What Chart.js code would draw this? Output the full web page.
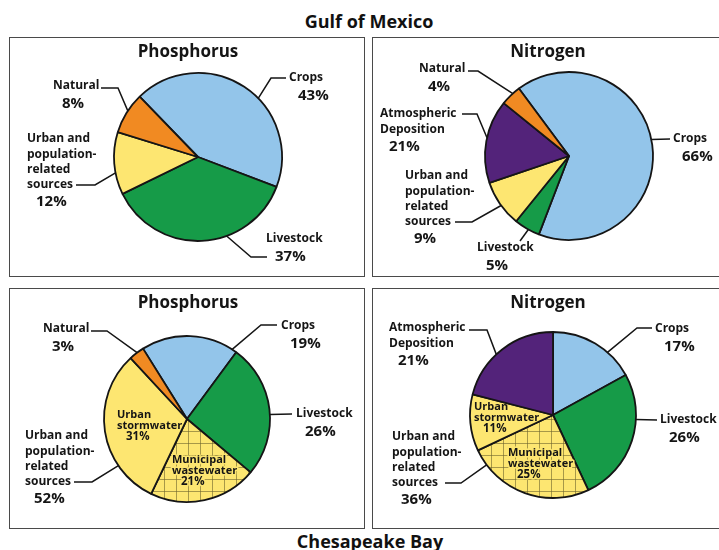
<!DOCTYPE html>
<html>
<head>
<meta charset="utf-8">
<script src="https://cdn.jsdelivr.net/npm/chart.js@4.4.1/dist/chart.umd.min.js"></script>
<style>
  body { margin: 0; width: 719px; height: 550px; background: #fff; position: relative; overflow: hidden; font-family: "Open Sans", sans-serif; }
  canvas { position: absolute; }
  .box { position: absolute; border: 1.5px solid #4a4a4a; box-sizing: border-box; pointer-events: none; }
  .head { position: absolute; font-weight: 700; font-size: 18px; color: #111; transform: translate(-50%, -50%); white-space: nowrap; }
</style>
</head>
<body>
<div class="head" style="left:369px; top:21px">Gulf of Mexico</div>
<div class="head" style="left:370px; top:541px">Chesapeake Bay</div>

<canvas id="gulfPhos" width="356" height="240" style="left:9px; top:37px"></canvas>
<canvas id="gulfNitro" width="350" height="240" style="left:372px; top:37px"></canvas>
<canvas id="chesPhos" width="356" height="241" style="left:9px; top:288px"></canvas>
<canvas id="chesNitro" width="350" height="241" style="left:372px; top:288px"></canvas>
<div class="box" style="left:9px; top:37px; width:356px; height:240px"></div>
<div class="box" style="left:372px; top:37px; width:350px; height:240px"></div>
<div class="box" style="left:9px; top:288px; width:356px; height:241px"></div>
<div class="box" style="left:372px; top:288px; width:350px; height:241px"></div>

<script>
// ---- data ----
let gulfPhosLabels = ['Crops', 'Livestock', 'Urban and population-related sources', 'Natural'];
let gulfPhosValues = [43, 37, 12, 8];

let gulfNitroLabels = ['Crops', 'Livestock', 'Urban and population-related sources', 'Atmospheric Deposition', 'Natural'];
let gulfNitroValues = [66, 5, 9, 16, 4];          // slice sizes as drawn
let gulfNitroPct = ['66%', '5%', '9%', '21%', '4%']; // percentages as printed

let chesPhosLabels = ['Crops', 'Livestock', 'Municipal wastewater', 'Urban stormwater', 'Natural'];
let chesPhosValues = [19, 26, 21, 31, 3];

let chesNitroLabels = ['Crops', 'Livestock', 'Municipal wastewater', 'Urban stormwater', 'Atmospheric Deposition'];
let chesNitroValues = [17, 26, 25, 11, 21];

let urbanGroupLabel = 'Urban and population-related sources';

// ---- colours ----
let blue = '#93c5ea';
let green = '#169b48';
let yellow = '#fde671';
let orange = '#f18a22';
let purple = '#53237a';

// grid hatch for municipal wastewater
function gridPattern() {
    let c = document.createElement('canvas');
    c.width = 12; c.height = 12;
    let g = c.getContext('2d');
    g.fillStyle = yellow;
    g.fillRect(0, 0, 12, 12);
    g.strokeStyle = 'rgba(110, 100, 45, 0.6)';
    g.lineWidth = 1;
    g.beginPath();
    g.moveTo(11.5, 0); g.lineTo(11.5, 12);
    g.moveTo(0, 11.5); g.lineTo(12, 11.5);
    g.stroke();
    return g.createPattern(c, 'repeat');
}
let hatch = gridPattern();

let wrapped = {
    'Urban and population-related sources': ['Urban and', 'population-', 'related', 'sources'],
    'Atmospheric Deposition': ['Atmospheric', 'Deposition'],
    'Urban stormwater': ['Urban', 'stormwater'],
    'Municipal wastewater': ['Municipal', 'wastewater']
};
function lines(label) { return wrapped[label] || [label]; }
function pct(v) { return v + '%'; }

// chart area placed so the pie centre lands at (cx, cy) inside the box
function padFor(cx, cy, w, h) {
    let dx = 2 * cx - w, dy = 2 * cy - h;
    return { left: Math.max(dx, 0), right: Math.max(-dx, 0), top: Math.max(dy, 0), bottom: Math.max(-dy, 0) };
}

function calloutPlugin(title, items) {
    return {
        id: 'callouts',
        afterDraw(chart) {
            let c = chart.ctx;
            let arcs = chart.getDatasetMeta(0).data;
            c.save();
            c.fillStyle = '#151515';
            c.textBaseline = 'middle';
            c.textAlign = 'center';
            c.font = '700 17px "Open Sans"';
            c.fillText(title, chart.width / 2 + 1, 15);
            c.textAlign = 'left';

            items.forEach(function(it) {
                if (it.pts) {
                    let p = arcs[it.slice].getProps(['x', 'y', 'startAngle', 'endAngle', 'outerRadius'], true);
                    let a = p.startAngle + it.at * (p.endAngle - p.startAngle);
                    c.beginPath();
                    c.moveTo(p.x + Math.cos(a) * p.outerRadius, p.y + Math.sin(a) * p.outerRadius);
                    it.pts.forEach(function(q) { c.lineTo(q[0], q[1]); });
                    c.strokeStyle = '#151515';
                    c.lineWidth = 1.5;
                    c.stroke();
                }
                let inside = it.inside;
                let step = inside ? 11 : 15.2;
                let nameFont = inside ? '700 11px "Open Sans"' : '700 12px "Open Sans"';
                let pctFont = inside ? '700 11.5px "Open Sans"' : '700 15px "Open Sans"';
                let rows = it.lines;
                rows.forEach(function(r, i) {
                    c.font = nameFont;
                    if (it.halo) {
                        c.strokeStyle = yellow; c.lineWidth = 3; c.lineJoin = 'round';
                        c.strokeText(r, it.x, it.y + i * step);
                    }
                    c.fillText(r, it.x, it.y + i * step);
                });
                c.font = pctFont;
                let py = it.y + (rows.length - 1) * step + (inside ? 11 : 17.5);
                if (it.halo) {
                    c.strokeStyle = yellow; c.lineWidth = 3;
                    c.strokeText(it.pct, it.x + 9, py);
                }
                c.fillText(it.pct, it.x + 9, py);
            });
            c.restore();
        }
    };
}

function makePie(id, labels, values, colors, center, radius, rotation, title, items) {
    let canvas = document.getElementById(id);
    return new Chart(canvas.getContext('2d'), {
        type: 'pie',
        data: {
            labels: labels,
            datasets: [{
                data: values,
                backgroundColor: colors,
                borderColor: '#151515',
                borderWidth: 1.8
            }]
        },
        options: {
            responsive: false,
            animation: false,
            events: [],
            rotation: rotation,
            radius: radius,
            layout: { padding: padFor(center[0], center[1], canvas.width, canvas.height) },
            plugins: { legend: { display: false }, tooltip: { enabled: false } }
        },
        plugins: [calloutPlugin(title, items)]
    });
}

// Gulf of Mexico - phosphorus
makePie('gulfPhos', gulfPhosLabels, gulfPhosValues, [blue, green, yellow, orange], [189, 120], 84, -44, 'Phosphorus', [
    { slice: 0, lines: lines(gulfPhosLabels[0]), pct: pct(gulfPhosValues[0]), x: 280, y: 41, at: 0.58, pts: [[262, 41], [277, 41]] },
    { slice: 1, lines: lines(gulfPhosLabels[1]), pct: pct(gulfPhosValues[1]), x: 257, y: 202, at: 0.37, pts: [[242, 220], [258, 220]] },
    { slice: 2, lines: lines(gulfPhosLabels[2]), pct: pct(gulfPhosValues[2]), x: 18, y: 102, at: 0.35, pts: [[86, 148], [67, 148]] },
    { slice: 3, lines: lines(gulfPhosLabels[3]), pct: pct(gulfPhosValues[3]), x: 44, y: 49, at: 0.56, pts: [[109, 51], [92, 51]] }
]);

// Gulf of Mexico - nitrogen
makePie('gulfNitro', gulfNitroLabels, gulfNitroValues, [blue, green, yellow, purple, orange], [197, 119], 84, -36.6, 'Nitrogen', [
    { slice: 0, lines: lines(gulfNitroLabels[0]), pct: gulfNitroPct[0], x: 301, y: 102, at: 0.485, pts: [[298, 102]] },
    { slice: 1, lines: lines(gulfNitroLabels[1]), pct: gulfNitroPct[1], x: 105, y: 211, at: 0.44, pts: [[148, 204]] },
    { slice: 2, lines: lines(gulfNitroLabels[2]), pct: gulfNitroPct[2], x: 33, y: 139, at: 0.46, pts: [[100, 185], [83, 185]] },
    { slice: 3, lines: lines(gulfNitroLabels[3]), pct: gulfNitroPct[3], x: 8, y: 77, at: 0.54, pts: [[105, 77], [90, 77]] },
    { slice: 4, lines: lines(gulfNitroLabels[4]), pct: gulfNitroPct[4], x: 47, y: 32, at: 0.63, pts: [[106, 34], [96, 34]] }
]);

// Chesapeake Bay - phosphorus
makePie('chesPhos', chesPhosLabels, chesPhosValues, [blue, green, hatch, yellow, orange], [178, 131], 83, -32, 'Phosphorus', [
    { slice: 0, lines: lines(chesPhosLabels[0]), pct: pct(chesPhosValues[0]), x: 272, y: 38, at: 0.95, pts: [[252, 37], [268, 37]] },
    { slice: 1, lines: lines(chesPhosLabels[1]), pct: pct(chesPhosValues[1]), x: 287, y: 126, at: 0.54, pts: [[283, 126]] },
    { slice: 4, lines: lines(chesPhosLabels[4]), pct: pct(chesPhosValues[4]), x: 34, y: 41, at: 0.54, pts: [[98, 43], [82, 43]] },
    { slice: 3, lines: lines(urbanGroupLabel), pct: pct(chesPhosValues[2] + chesPhosValues[3]), x: 16, y: 148, at: 0.27, pts: [[83, 194], [65, 194]] },
    { slice: 3, lines: lines(chesPhosLabels[3]), pct: pct(chesPhosValues[3]), x: 108, y: 127, inside: true },
    { slice: 2, lines: lines(chesPhosLabels[2]), pct: pct(chesPhosValues[2]), x: 163, y: 172, inside: true, halo: true }
]);

// Chesapeake Bay - nitrogen
makePie('chesNitro', chesNitroLabels, chesNitroValues, [blue, green, hatch, yellow, purple], [181, 127], 83, 0, 'Nitrogen', [
    { slice: 0, lines: lines(chesNitroLabels[0]), pct: pct(chesNitroValues[0]), x: 283, y: 41, at: 0.67, pts: [[265, 40], [280, 40]] },
    { slice: 1, lines: lines(chesNitroLabels[1]), pct: pct(chesNitroValues[1]), x: 288, y: 132, at: 0.34, pts: [[285, 132]] },
    { slice: 4, lines: lines(chesNitroLabels[4]), pct: pct(chesNitroValues[4]), x: 17, y: 40, at: 0.43, pts: [[115, 42], [97, 42]] },
    { slice: 2, lines: lines(urbanGroupLabel), pct: pct(chesNitroValues[2] + chesNitroValues[3]), x: 20, y: 149, at: 0.87, pts: [[89, 195], [73, 195]] },
    { slice: 3, lines: lines(chesNitroLabels[3]), pct: pct(chesNitroValues[3]), x: 102, y: 119, inside: true },
    { slice: 2, lines: lines(chesNitroLabels[2]), pct: pct(chesNitroValues[2]), x: 136, y: 165, inside: true, halo: true }
]);
</script>
</body>
</html>
